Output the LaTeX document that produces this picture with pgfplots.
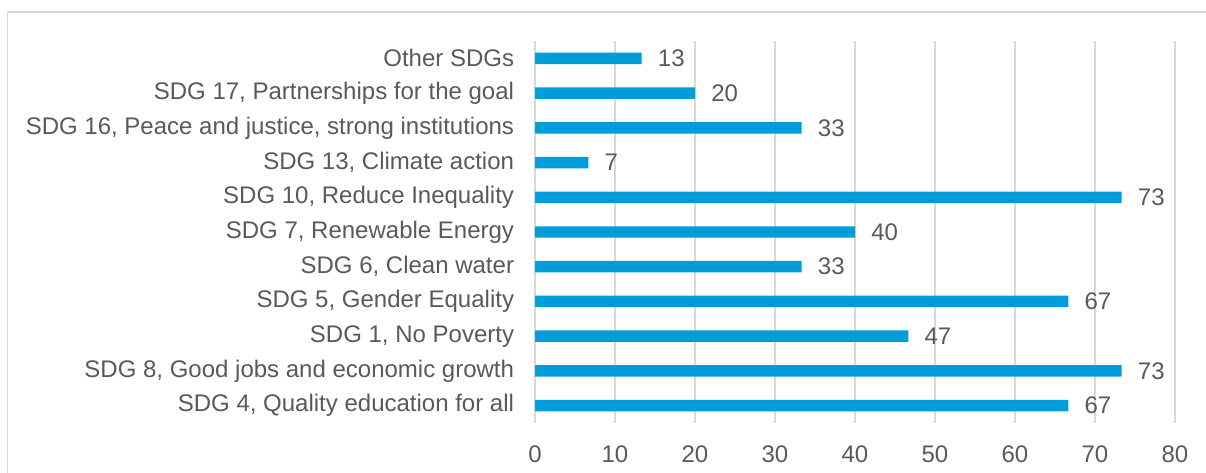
\documentclass[border=0pt]{standalone}
\usepackage{pgfplots}
\pgfplotsset{compat=1.18}
\usepackage{fontspec}
\setmainfont{Liberation Sans}

\definecolor{barblue}{HTML}{009DDB}
\definecolor{txtgray}{HTML}{595959}
\definecolor{linegray}{HTML}{D9D9D9}

% Share of projects addressing each SDG (percent)
\pgfplotstableread{
y  value
0  66.67
1  73.33
2  46.67
3  66.67
4  33.33
5  40.00
6  73.33
7  6.67
8  33.33
9  20.00
10 13.33
}\sdgdata

\begin{document}
\begin{tikzpicture}[x=1pt,y=1pt]
\useasboundingbox (0,0) rectangle (904.5,-354.75);
\draw[linegray, line width=0.9pt] (5.6,-354.75) -- (5.6,-9) -- (904.5,-9);
\begin{axis}[
  at={(401.25pt,-317.25pt)}, anchor=south west,
  scale only axis,
  width=480pt, height=286.5pt,
  xbar, bar width=8.6pt,
  xmin=0, xmax=80,
  ymin=-0.5, ymax=10.5,
  xtick={0,10,...,80},
  ytick={0,...,10},
  yticklabels={
    {SDG 4, Quality education for all},
    {SDG 8, Good jobs and economic growth},
    {SDG 1, No Poverty},
    {SDG 5, Gender Equality},
    {SDG 6, Clean water},
    {SDG 7, Renewable Energy},
    {SDG 10, Reduce Inequality},
    {SDG 13, Climate action},
    {SDG 16, Peace and justice, strong institutions},
    {SDG 17, Partnerships for the goal},
    {Other SDGs}},
  axis line style={draw=none},
  major tick style={draw=none},
  xmajorgrids,
  grid style={linegray, line width=1pt},
  /pgf/number format/assume math mode=true,
  tick label style={font=\fontsize{18}{21.6}\selectfont, text=txtgray, inner sep=0pt},
  yticklabel style={anchor=east, xshift=-11.25pt},
  xticklabel style={anchor=north, yshift=-16.5pt},
  nodes near coords,
  nodes near coords style={font=\fontsize{18}{21.6}\selectfont, text=txtgray, anchor=west, inner sep=0pt, xshift=12pt,
    /pgf/number format/fixed, /pgf/number format/precision=0},
]
\addplot[fill=barblue, draw=none] table[x=value, y=y] {\sdgdata};
\end{axis}
\end{tikzpicture}
\end{document}
